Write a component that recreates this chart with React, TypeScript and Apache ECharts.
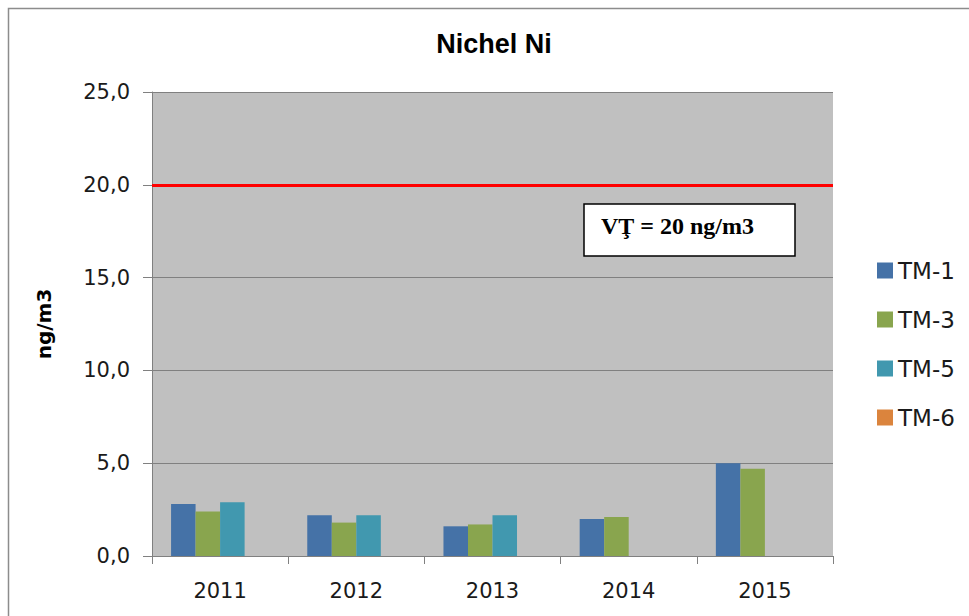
import React, { useEffect, useRef } from "react";
import * as echarts from "echarts";

const title = "Nichel Ni";
const categories = ["2011", "2012", "2013", "2014", "2015"];
const seriesNames = ["TM-1", "TM-3", "TM-5", "TM-6"];
const tm1 = [2.8, 2.2, 1.6, 2.0, 5.0];
const tm3 = [2.4, 1.8, 1.7, 2.1, 4.7];
const tm5: (number | null)[] = [2.9, 2.2, 2.2, null, null];
const tm6: (number | null)[] = [null, null, null, null, null];
const colors = ["#4572A7", "#89A54E", "#4198AF", "#DB843D"];
const yMin = 0;
const yMax = 25;
const yInterval = 5;
const limitValue = 20;
const limitLabel = "VŢ = 20 ng/m3";
const yAxisName = "ng/m3";

export default function App() {
  const ref = useRef<HTMLDivElement>(null);
  useEffect(() => {
    if (!ref.current) return;
    const chart = echarts.init(ref.current, undefined, { renderer: "svg" });
    const data = [tm1, tm3, tm5, tm6];
    chart.setOption({
      animation: false,
      color: colors,
      title: {
        text: title,
        left: 494,
        top: 30,
        padding: 0,
        textAlign: "center",
        textStyle: {
          fontFamily: "Liberation Sans",
          fontWeight: "bold",
          fontSize: 27,
          lineHeight: 27,
          color: "#000",
        },
      },
      legend: {
        orient: "vertical",
        left: 872,
        top: 254,
        itemWidth: 16,
        itemHeight: 16,
        itemGap: 26,
        icon: "rect",
        data: seriesNames,
        textStyle: {
          fontFamily: "DejaVu Sans",
          fontSize: 23,
          lineHeight: 23,
          color: "#1a1a1a",
        },
      },
      grid: {
        left: 152,
        right: 136,
        top: 92,
        bottom: 60,
        show: true,
        backgroundColor: "#c0c0c0",
        borderWidth: 0,
      },
      xAxis: {
        type: "category",
        data: categories,
        axisLine: { lineStyle: { color: "#808080", width: 1 } },
        axisTick: { show: true, length: 8, lineStyle: { color: "#808080" } },
        axisLabel: {
          fontFamily: "DejaVu Sans",
          fontSize: 21,
          color: "#1a1a1a",
          margin: 24,
        },
      },
      yAxis: {
        type: "value",
        min: yMin,
        max: yMax,
        interval: yInterval,
        name: yAxisName,
        nameLocation: "middle",
        nameGap: 98,
        nameRotate: 90,
        nameTextStyle: {
          fontFamily: "DejaVu Sans",
          fontWeight: "bold",
          fontSize: 20,
          color: "#000",
        },
        axisLine: { show: true, lineStyle: { color: "#808080", width: 1 } },
        axisTick: { show: true, length: 9, lineStyle: { color: "#808080" } },
        splitLine: { lineStyle: { color: "#808080", width: 1 } },
        axisLabel: {
          fontFamily: "DejaVu Sans",
          fontSize: 21,
          color: "#1a1a1a",
          margin: 22,
          formatter: (v: number) => v.toFixed(1).replace(".", ","),
        },
      },
      series: seriesNames.map((name, i) => ({
        name,
        type: "bar",
        data: data[i],
        barGap: "0%",
        barCategoryGap: "28%",
        ...(i === 0
          ? {
              markLine: {
                silent: true,
                symbol: ["none", "none"],
                label: { show: false },
                lineStyle: { color: "#ff0000", width: 3, type: "solid" },
                data: [{ yAxis: limitValue }],
              },
            }
          : {}),
      })),
      graphic: [
        {
          type: "rect",
          shape: { x: 8.5, y: 8.5, width: 1000, height: 700 },
          style: { fill: "none", stroke: "#8c8c8c", lineWidth: 1.5 },
          silent: true,
        },
        {
          type: "rect",
          shape: { x: 584, y: 204, width: 211, height: 52 },
          style: { fill: "#ffffff", stroke: "#000000", lineWidth: 1.5 },
          z: 10,
        },
        {
          type: "text",
          x: 601,
          y: 226,
          z: 11,
          style: {
            text: limitLabel,
            fontFamily: "Liberation Serif",
            fontWeight: "bold",
            fontSize: 24,
            fill: "#000",
            verticalAlign: "middle",
            align: "left",
          },
        },
      ],
    });
    return () => chart.dispose();
  }, []);
  return (
    <div
      ref={ref}
      style={{ position: "absolute", left: 0, top: 0, width: 969, height: 616, background: "#fff" }}
    />
  );
}
